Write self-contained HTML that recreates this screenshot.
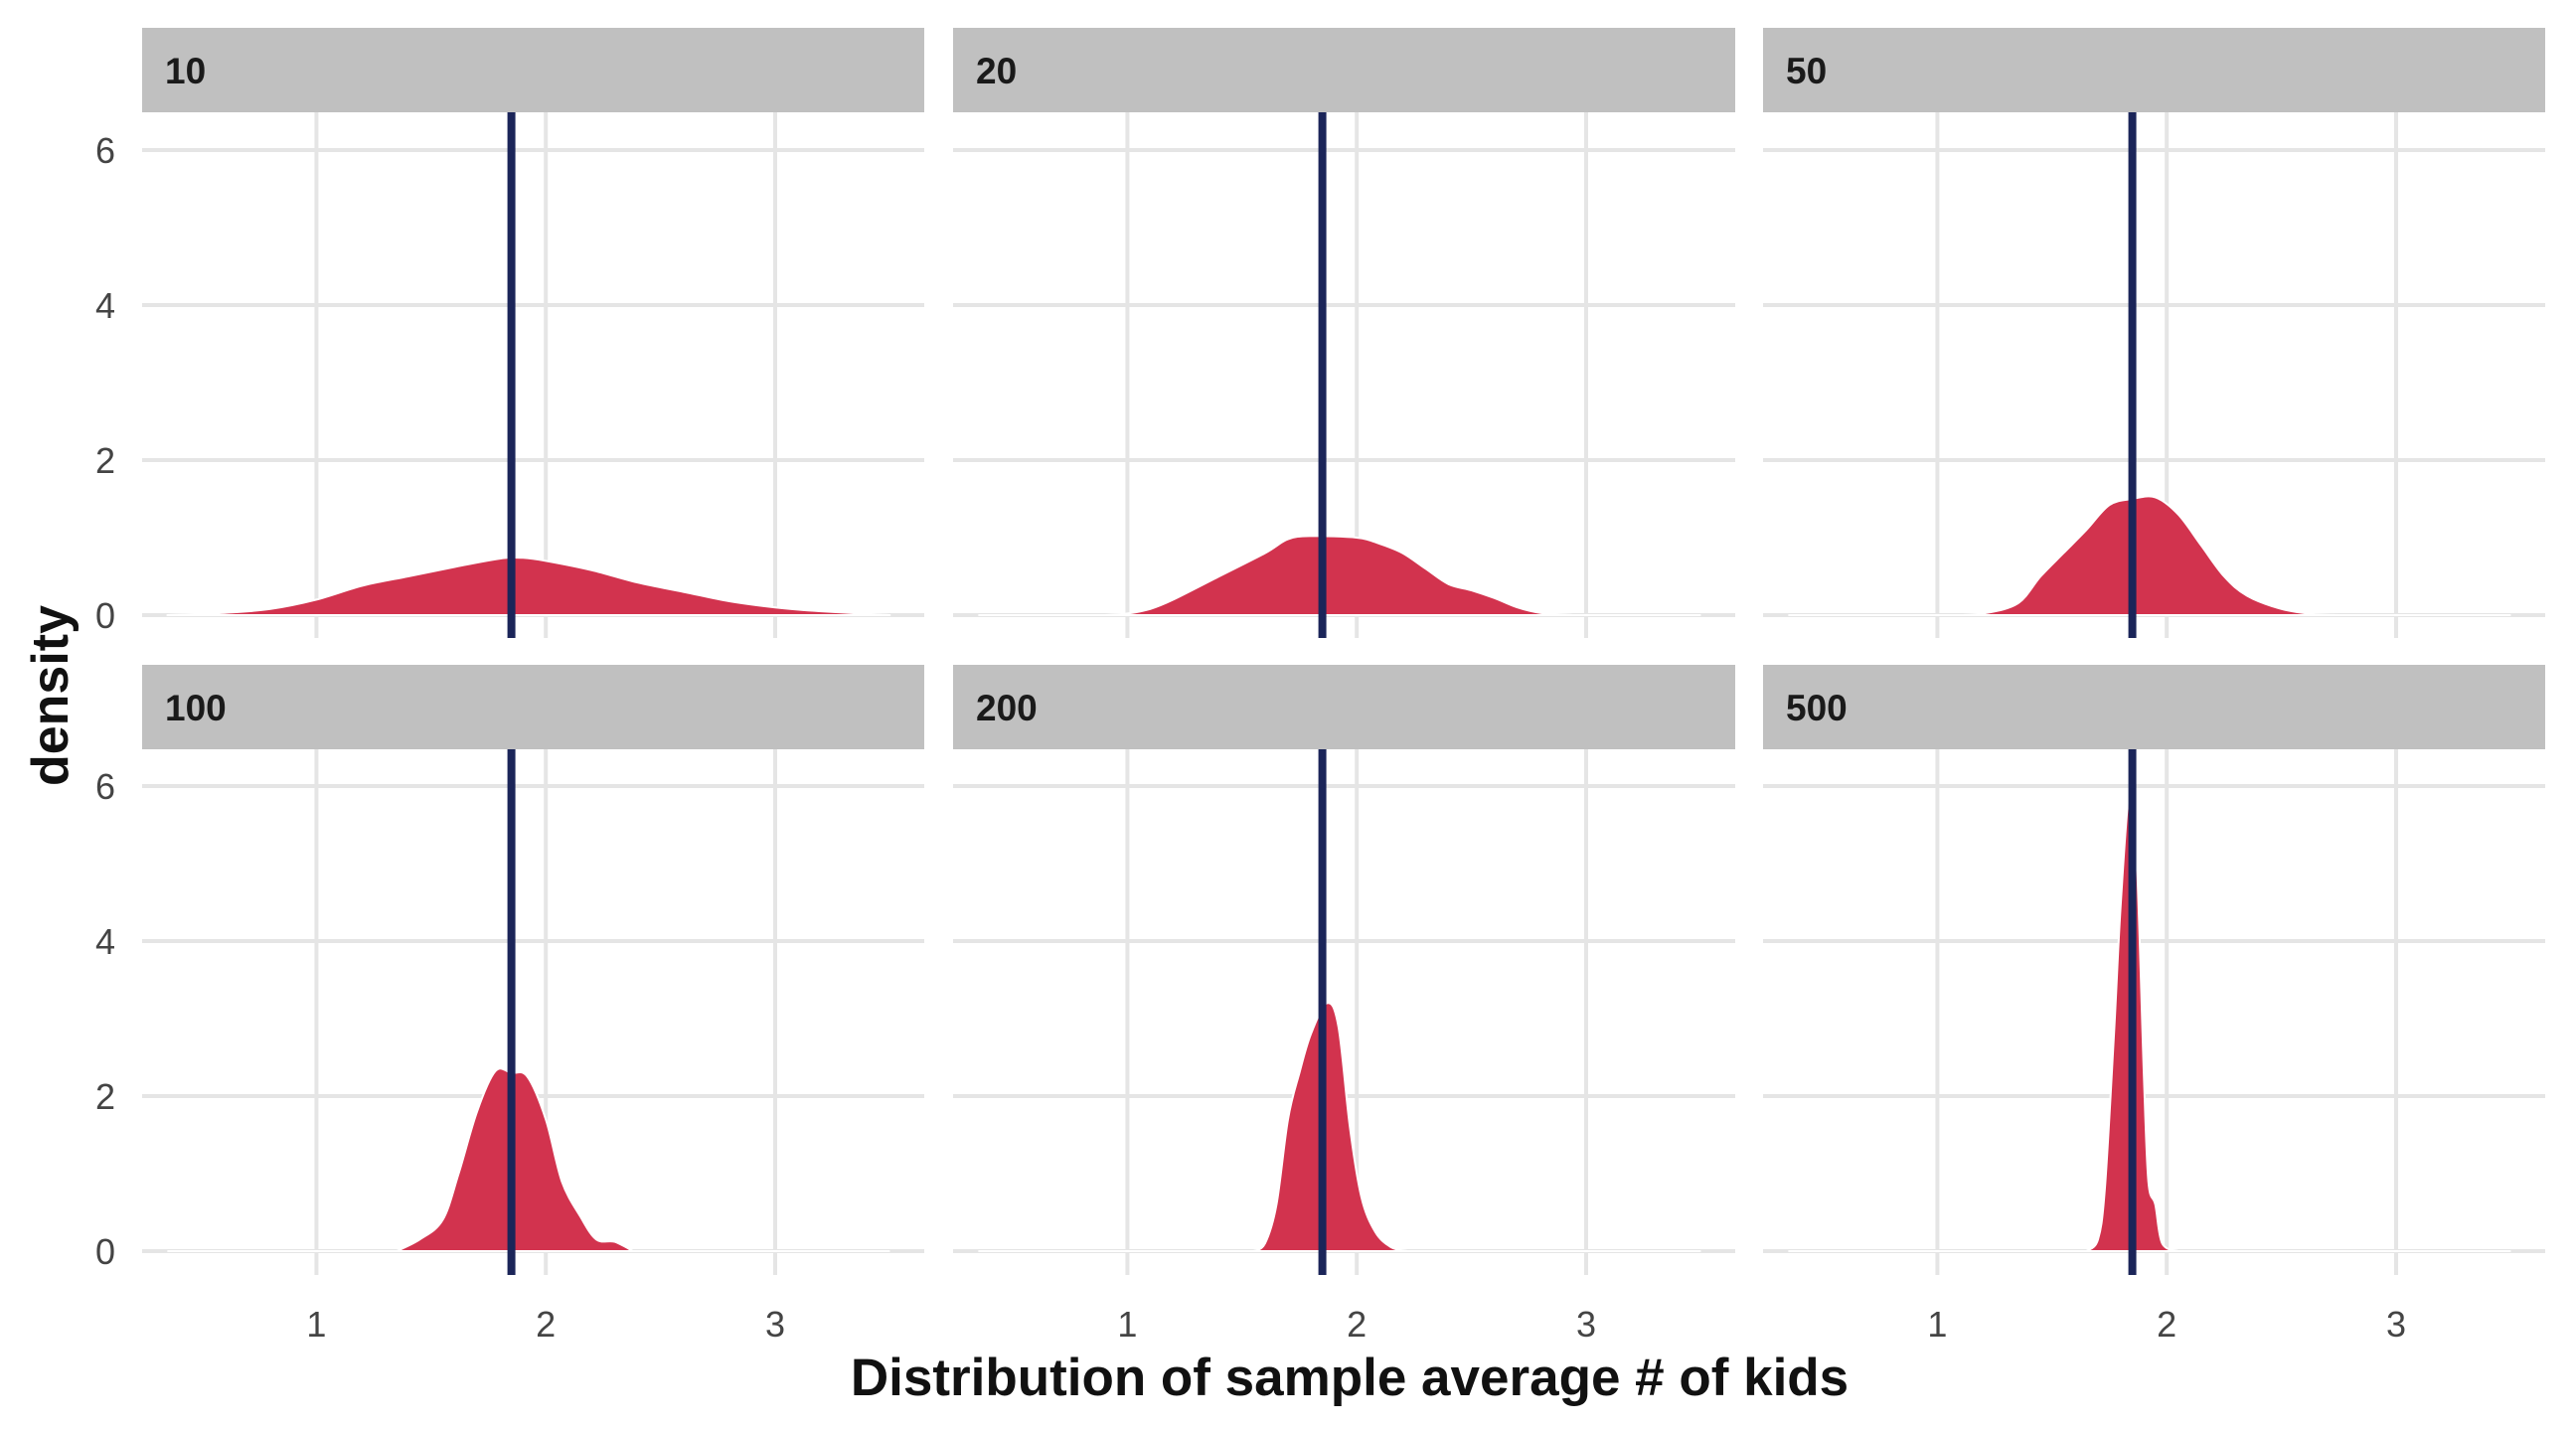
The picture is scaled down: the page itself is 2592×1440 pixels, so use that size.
<!DOCTYPE html>
<html><head><meta charset="utf-8"><style>
body{margin:0;background:#fff}
svg{display:block}
text{font-family:"Liberation Sans",sans-serif}
</style></head><body>
<svg id="chart" width="2592" height="1440" viewBox="0 0 2592 1440" xmlns="http://www.w3.org/2000/svg"></svg>
<script>
const panelLabels = ["10","20","50","100","200","500"];
const xTicks = [1,2,3];
const yTicks = [0,2,4,6];
const meanValue = 1.85;
const xs10 = [0.35,0.6,0.8,1.0,1.2,1.4,1.6,1.8,1.9,2.0,2.2,2.4,2.6,2.8,3.0,3.2,3.5];
const ys10 = [0,0.03,0.08,0.2,0.38,0.5,0.62,0.73,0.74,0.7,0.58,0.42,0.3,0.18,0.1,0.05,0];
const xs20 = [0.9,1.0,1.1,1.2,1.4,1.6,1.7,1.8,2.0,2.1,2.2,2.3,2.4,2.5,2.6,2.7,2.8,2.95];
const ys20 = [0,0.02,0.08,0.2,0.5,0.8,0.98,1.02,1.0,0.92,0.8,0.6,0.4,0.32,0.22,0.1,0.03,0];
const xs50 = [1.1,1.2,1.35,1.45,1.55,1.65,1.75,1.85,1.95,2.05,2.15,2.25,2.35,2.5,2.65,2.8];
const ys50 = [0,0.02,0.15,0.5,0.8,1.1,1.42,1.5,1.52,1.3,0.9,0.5,0.25,0.08,0.01,0];
const xs100 = [1.35,1.45,1.55,1.62,1.7,1.78,1.85,1.92,2.0,2.07,2.15,2.22,2.3,2.38];
const ys100 = [0,0.15,0.4,1.0,1.8,2.32,2.3,2.25,1.7,0.9,0.45,0.15,0.12,0];
const xs200 = [1.55,1.6,1.65,1.7,1.75,1.8,1.87,1.92,1.97,2.02,2.08,2.15,2.22];
const ys200 = [0,0.1,0.6,1.7,2.3,2.8,3.2,2.9,1.6,0.7,0.25,0.05,0];
const xs500 = [1.65,1.7,1.73,1.77,1.8,1.84,1.87,1.9,1.92,1.95,1.98,2.05];
const ys500 = [0,0.15,0.8,2.8,4.5,6.0,5.0,2.3,0.9,0.6,0.1,0];
const seriesX = [xs10,xs20,xs50,xs100,xs200,xs500];
const seriesY = [ys10,ys20,ys50,ys100,ys200,ys500];

const NS="http://www.w3.org/2000/svg";
const svg=document.getElementById('chart');
function mk(tag,attrs,parent){const e=document.createElementNS(NS,tag);for(const k in attrs)e.setAttribute(k,attrs[k]);(parent||svg).appendChild(e);return e;}
const colL=[143,959,1774], pw=787;
const rows=[{strip:28,zero:619,bottom:642},{strip:669,zero:1259,bottom:1283}];
const xmin=0.24,xmax=3.65, unitY=78;
function smoothPath(pts){
  let d='';
  for(let i=0;i<pts.length-1;i++){
    const p0=pts[Math.max(0,i-1)],p1=pts[i],p2=pts[i+1],p3=pts[Math.min(pts.length-1,i+2)];
    const c1=[p1[0]+(p2[0]-p0[0])/6,p1[1]+(p2[1]-p0[1])/6];
    const c2=[p2[0]-(p3[0]-p1[0])/6,p2[1]-(p3[1]-p1[1])/6];
    d+=' C'+c1[0].toFixed(1)+','+Math.min(c1[1],pts[0][1]).toFixed(1)+' '+c2[0].toFixed(1)+','+Math.min(c2[1],pts[0][1]).toFixed(1)+' '+p2[0].toFixed(1)+','+p2[1].toFixed(1);
  }
  return d;
}
for(let p=0;p<6;p++){
  const c=p%3,r=Math.floor(p/3);
  const L=colL[c],R=L+pw,row=rows[r];
  const sx=v=>L+(v-xmin)/(xmax-xmin)*pw;
  const sy=v=>row.zero-v*unitY;
  const g=mk('g',{});
  
  
  const top=row.strip+85;
  yTicks.forEach(t=>{const l=mk('line',{x1:L,x2:R,y1:sy(t),y2:sy(t),stroke:'#e5e5e5','stroke-width':4},g);
    });
  xTicks.forEach(t=>{const l=mk('line',{x1:sx(t),x2:sx(t),y1:top,y2:row.bottom,stroke:'#e5e5e5','stroke-width':4},g);
    });
  const xa=seriesX[p],ya=seriesY[p];
  const pts=xa.map((x,i)=>[sx(x),sy(ya[i])]);
  const d='M'+pts[0][0].toFixed(1)+','+pts[0][1].toFixed(1)+smoothPath(pts)+' Z';
  const base=mk('line',{x1:sx(0.35),x2:sx(3.5),y1:sy(0),y2:sy(0),stroke:'#fff','stroke-width':2},g);
  
  const area=mk('path',{d:d,fill:'#d2334e',stroke:'#fff','stroke-width':2,'stroke-linejoin':'round'},g);
  
  
  const vl=mk('line',{x1:sx(meanValue),x2:sx(meanValue),y1:top,y2:row.bottom,stroke:'#1b2559','stroke-width':8},g);
  
  const st=mk('rect',{x:L,y:row.strip,width:pw,height:85,fill:'#c0c0c0'},g);
  
  const stt=mk('text',{x:L+23,y:row.strip+56,'font-size':37,'font-weight':'bold',fill:'#1a1a1a'},g);
  stt.textContent=panelLabels[p];
  
  if(c===0){yTicks.forEach(t=>{const tx=mk('text',{x:116,y:sy(t)+13,'font-size':36,fill:'#444','text-anchor':'end'},g);
    tx.textContent=t;});}
  if(r===1){xTicks.forEach(t=>{const tx=mk('text',{x:sx(t),y:1345,'font-size':36,fill:'#444','text-anchor':'middle'},g);
    tx.textContent=t;});}
}
const xt=mk('text',{x:1358,y:1404,'font-size':53,'font-weight':'bold','text-anchor':'middle',fill:'#111'});
xt.textContent='Distribution of sample average # of kids';

const yt=mk('text',{x:0,y:0,'font-size':52,'font-weight':'bold','text-anchor':'middle',fill:'#111',transform:'translate(68,700) rotate(-90)'});
yt.textContent='density';

</script>
</body></html>
